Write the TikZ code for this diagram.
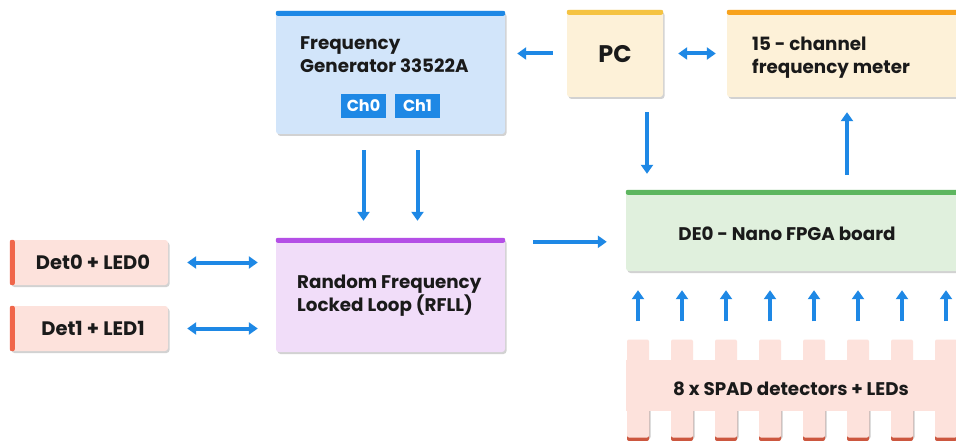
\documentclass[tikz,border=0pt]{standalone}
\usepackage{fontspec}
\setmainfont{Poppins}
\usetikzlibrary{arrows.meta,shadows}

\definecolor{arrblue}{HTML}{1E88E5}
\definecolor{fgfill}{HTML}{D2E5FA}
\definecolor{fgbar}{HTML}{1E88E5}
\definecolor{pcfill}{HTML}{FDF1D8}
\definecolor{pcbar}{HTML}{F5C342}
\definecolor{fmbar}{HTML}{F8A21C}
\definecolor{detfill}{HTML}{FDE2DC}
\definecolor{detbar}{HTML}{F0664A}
\definecolor{rffill}{HTML}{F1DDF9}
\definecolor{rfbar}{HTML}{B44FE6}
\definecolor{defill}{HTML}{E0F0DD}
\definecolor{debar}{HTML}{5DB65F}
\definecolor{txt}{HTML}{1A1A1A}

\begin{document}
\begin{tikzpicture}
        [x=1pt,y=-1pt,font=\bfseries\fontsize{18.3}{23}\selectfont,text=txt]
        \tikzset{box/.style={rectangle, rounded corners=3pt, inner sep=0pt,
        drop shadow={opacity=0.35,shadow xshift=1.5pt,shadow yshift=-2pt}},
        chbox/.style={rectangle, fill=arrblue, text=white, inner sep=0pt,
        minimum width=45pt, minimum height=24pt, font=\bfseries\fontsize{16}{18}\selectfont},
        arr/.style={draw=arrblue, line width=4pt, -{Triangle[width=12pt,length=9pt]}},
        darr/.style={draw=arrblue, line width=4pt, {Triangle[width=12pt,length=9pt]}-{Triangle[width=12pt,length=9pt]}},
        tooth/.style={rectangle, fill=detfill, rounded corners=2pt, inner sep=0pt,
        minimum width=22pt, minimum height=25pt}}
        \useasboundingbox[fill=white] (0,0) rectangle (956,441);
        %-----boxes
         \node[box, fill=fgfill, minimum width=229pt, minimum height=123pt] (FG) at (390.5,72.5) {};
         \node[box, fill=pcfill, minimum width=96pt, minimum height=87pt] (PC) at (615,53.5) {};
         \node[box, fill=pcfill, minimum width=240pt, minimum height=87pt] (FM) at (847,53.5) {};
         \node[box, fill=detfill, minimum width=158pt, minimum height=45pt] (D0) at (89,262.5) {};
         \node[box, fill=detfill, minimum width=158pt, minimum height=45pt] (D1) at (89,328.5) {};
         \node[box, fill=rffill, minimum width=229pt, minimum height=114pt] (RF) at (390.5,295) {};
         \node[box, fill=defill, minimum width=340pt, minimum height=81pt] (DE) at (796,230.5) {};

         \fill[fgbar, rounded corners=2pt] (FG.north west) rectangle ([yshift=-5pt]FG.north east);
         \fill[pcbar, rounded corners=2pt] (PC.north west) rectangle ([yshift=-5pt]PC.north east);
         \fill[fmbar, rounded corners=2pt] (FM.north west) rectangle ([yshift=-5pt]FM.north east);
         \fill[rfbar, rounded corners=2pt] (RF.north west) rectangle ([yshift=-5pt]RF.north east);
         \fill[debar, rounded corners=2pt] (DE.north west) rectangle ([yshift=-5pt]DE.north east);
         \fill[detbar, rounded corners=2pt] (D0.north west) rectangle ([xshift=5pt]D0.south west);
         \fill[detbar, rounded corners=2pt] (D1.north west) rectangle ([xshift=5pt]D1.south west);

        %-----texts
         \node[anchor=west, align=left, inner sep=0pt] (FGt) at (300,55) {Frequency\\Generator 33522A};
         \node[chbox] (C0) at (363.5,106) {Ch0};
         \node[chbox] (C1) at (417.5,106) {Ch1};
         \node[font=\bfseries\fontsize{24}{28}\selectfont] (PCt) at (615,54) {PC};
         \node[anchor=west, align=left, inner sep=0pt] (FMt) at (752,58) {15 - channel\\frequency meter};
         \node[font=\bfseries\fontsize{19.5}{23}\selectfont] (D0t) at (93,262.5) {Det0 + LED0};
         \node[font=\bfseries\fontsize{19.5}{23}\selectfont] (D1t) at (93,328.5) {Det1 + LED1};
         \node[anchor=west, align=left, inner sep=0pt] (RFt) at (297,296) {Random Frequency\\Locked Loop (RFLL)};
         \node (DEt) at (787,234) {DE0 - Nano FPGA board};

        %-----SPAD comb
         \fill[detfill] (626,365) rectangle (956,411);
         \foreach \i in {0,...,7}
         {
         \node[tooth] (t\i) at (638+44*\i,352) {};
         \fill[gray!40, rounded corners=2pt] (628.5+44*\i,400) rectangle (650.5+44*\i,439);
         \fill[detbar!85!black, rounded corners=2pt] (627+44*\i,405) rectangle (649+44*\i,441);
         \fill[detfill, rounded corners=2pt] (627+44*\i,400) rectangle (649+44*\i,437.5);
         }
         \fill[detfill] (626,360) rectangle (956,411);
         \node (SP) at (791,389) {8 x SPAD detectors + LEDs};

        %-----arrows
         \draw[arr, shorten <=14pt, shorten >=12pt] (PC.west) -- (PC.west -| FG.east);
         \draw[darr, shorten <=15pt, shorten >=11pt] (PC.east) -- (PC.east -| FM.west);
         \draw[arr, shorten <=15pt, shorten >=16pt] ([xshift=32pt]PC.south) -- ([xshift=32pt]PC.south |- DE.north);
         \draw[arr, shorten <=15pt, shorten >=15pt] (FM.south |- DE.north) -- (FM.south);
         \draw[arr, shorten <=32pt, shorten >=17pt] (C0.south) -- (C0.south |- RF.north);
         \draw[arr, shorten <=32pt, shorten >=17pt] (C1.south) -- (C1.south |- RF.north);
         \draw[arr, shorten <=28pt, shorten >=19pt] ([yshift=-4pt]RF.north east) -- ([yshift=-4pt]RF.north east -| DE.west);
         \draw[darr, shorten <=19pt, shorten >=18pt] (D0.east) -- (D0.east -| RF.west);
         \draw[darr, shorten <=19pt, shorten >=18pt] (D1.east) -- (D1.east -| RF.west);
         \foreach \i in {0,...,7}
         \draw[arr, shorten <=18pt, shorten >=19pt] (t\i.north) -- (t\i.north |- DE.south);
        \end{tikzpicture}
\end{document}
